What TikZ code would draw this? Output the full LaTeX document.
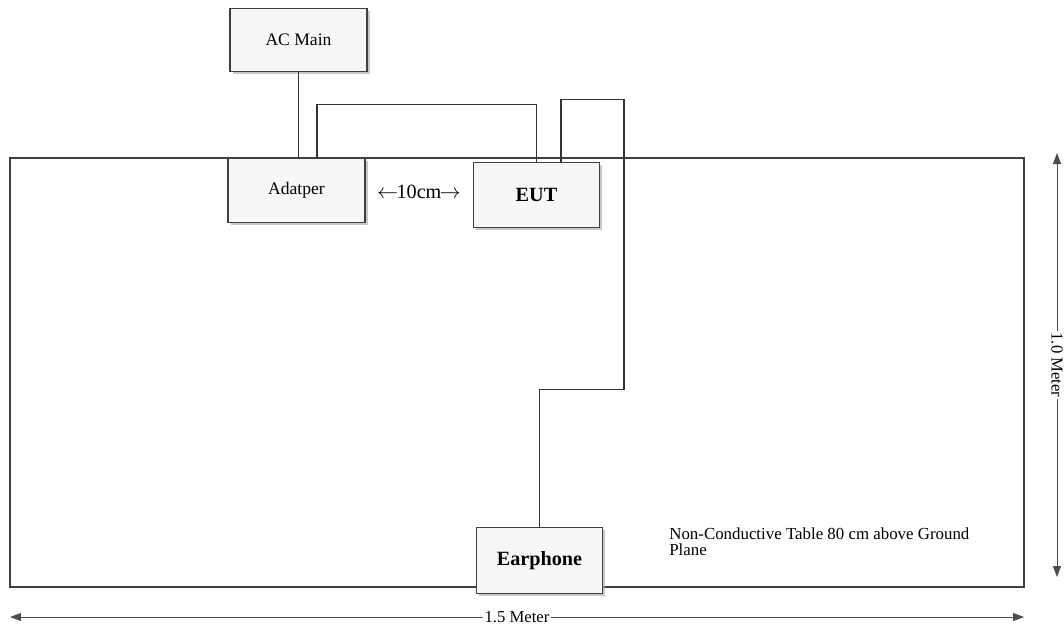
\documentclass[tikz,border=0pt]{standalone}
\usepackage{fontspec}
\setmainfont{Liberation Serif}
\usepackage{tikz}
\usetikzlibrary{arrows.meta, shadows}

\begin{document}
\begin{tikzpicture}[
    x=0.02cm, y=-0.02cm,
    box/.style={rectangle, draw=black!75, fill=gray!6, line width=0.6pt, inner sep=0pt, minimum width=2.74cm, minimum height=1.27cm, align=center, font=\fontsize{10}{12}\selectfont, drop shadow={shadow xshift=1.5pt, shadow yshift=-1.5pt, fill=gray!60, opacity=0.7}},
    bigbox/.style={box, minimum width=2.51cm, minimum height=1.31cm, font=\fontsize{11.5}{13}\selectfont\bfseries},
    tablebox/.style={rectangle, draw=black!75, line width=1.1pt, minimum width=20.28cm, minimum height=8.58cm},
    cable/.style={draw=black!80, line width=0.6pt},
    dim/.style={{Triangle[length=2.2mm, width=1.6mm]}-{Triangle[length=2.2mm, width=1.6mm]}, draw=black!70, line width=0.5pt},
    dimlabel/.style={fill=white, inner xsep=1pt, inner ysep=0pt, font=\fontsize{9.5}{11}\selectfont},
]
    \useasboundingbox (0,0) rectangle (1064,627);

    % Table
    \node[tablebox] (table) at (517,372.5) {};
    \node[anchor=north west, align=left, inner sep=0pt, font=\fontsize{9.6}{9.4}\selectfont] (note) at (669,527) {Non-Conductive Table 80 cm above Ground\\Plane};

    % Boxes
    \node[box] (acmain) at (298.5,40) {AC Main};
    \node[box] (adapter) at (296.5,190.5) {Adatper};
    \node[bigbox] (eut) at (536.5,195) {EUT};
    \node[bigbox] (earphone) at (539.5,560.5) {Earphone};

    % Spacing label
    \node[font=\fontsize{11.5}{13}\selectfont] (gap) at (419,192) {$\leftarrow$\kern-1pt10cm\kern-1pt$\rightarrow$};

    % Cables
    \draw[cable] (acmain.south) -- (acmain.south |- adapter.north);
    \draw[cable] ([xshift=0.41cm]adapter.north) -- ++(0,-54) -| (eut.north);
    \draw[cable] ([xshift=0.49cm]eut.north) -- ++(0,-62) -| ++(63,290) -| (earphone.north);

    % Dimensions
    \coordinate (widthL) at (10,617);
    \coordinate (widthR) at (1024,617);
    \coordinate (depthT) at (1057,153);
    \coordinate (depthB) at (1057,577);
    \draw[dim] (widthL) -- node[dimlabel] {1.5 Meter} (widthR);
    \draw[dim] (depthT) -- node[dimlabel, rotate=-90] {1.0 Meter} (depthB);
\end{tikzpicture}
\end{document}
